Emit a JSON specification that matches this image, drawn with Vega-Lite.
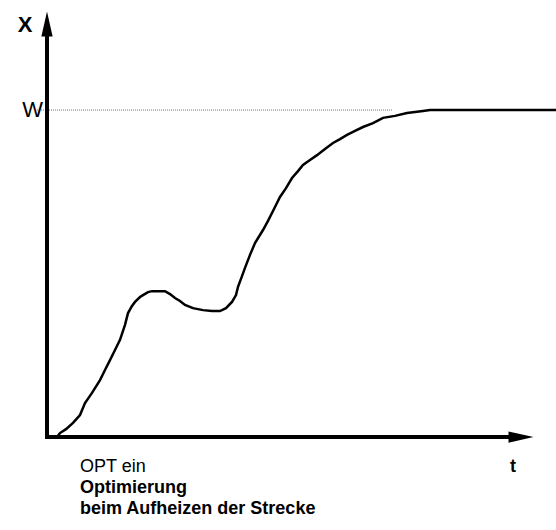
{
  "$schema": "https://vega.github.io/schema/vega-lite/v6.json",
  "width": 556,
  "height": 530,
  "autosize": "none",
  "padding": 0,
  "background": "white",
  "config": {"view": {"stroke": null}},
  "datasets": {
    "curve": [
      {"t": 2, "X": 0}, {"t": 2.6, "X": 1.2}, {"t": 3.8, "X": 2.4}, {"t": 5.2, "X": 4.3},
      {"t": 6.6, "X": 6.7}, {"t": 7.6, "X": 10.4}, {"t": 9, "X": 13.5}, {"t": 10.6, "X": 17.4},
      {"t": 11.6, "X": 20.5}, {"t": 12.6, "X": 23.5}, {"t": 13.6, "X": 26.6}, {"t": 14.6, "X": 29.7},
      {"t": 15.6, "X": 34.3}, {"t": 16.2, "X": 37.9}, {"t": 17, "X": 40.1}, {"t": 17.6, "X": 41.3},
      {"t": 18.6, "X": 42.8}, {"t": 19.2, "X": 43.4}, {"t": 20.2, "X": 44.3}, {"t": 21, "X": 44.6},
      {"t": 22.2, "X": 44.6}, {"t": 23.6, "X": 44.6}, {"t": 24.6, "X": 43.7}, {"t": 25.6, "X": 42.5},
      {"t": 26.6, "X": 41.6}, {"t": 27.6, "X": 40.4}, {"t": 29.2, "X": 39.4}, {"t": 31.2, "X": 38.8},
      {"t": 33, "X": 38.5}, {"t": 34.6, "X": 38.5}, {"t": 35.8, "X": 39.4}, {"t": 37, "X": 41.3},
      {"t": 37.8, "X": 43.4}, {"t": 38.2, "X": 45.9}, {"t": 39, "X": 49.2}, {"t": 39.6, "X": 51.7},
      {"t": 40.6, "X": 55.7}, {"t": 41.6, "X": 59.3}, {"t": 43.2, "X": 63.3}, {"t": 44.2, "X": 66.1},
      {"t": 45, "X": 68.5}, {"t": 46.6, "X": 73.4}, {"t": 47.8, "X": 76.1}, {"t": 49, "X": 79.2},
      {"t": 50.2, "X": 81.3}, {"t": 51.2, "X": 83.2}, {"t": 52.6, "X": 84.7}, {"t": 54, "X": 86.2},
      {"t": 55.6, "X": 88.1}, {"t": 57.2, "X": 89.9}, {"t": 58.6, "X": 91.1}, {"t": 60, "X": 92.4},
      {"t": 61.6, "X": 93.6}, {"t": 63.2, "X": 94.8}, {"t": 65.2, "X": 96.0}, {"t": 67.2, "X": 97.6},
      {"t": 69.6, "X": 98.2}, {"t": 72, "X": 99.1}, {"t": 73.6, "X": 99.4}, {"t": 75.2, "X": 99.7},
      {"t": 76.6, "X": 100}, {"t": 101.8, "X": 100}
    ],
    "axes": [
      {"t": 0, "X": -0.6, "t2": 0, "X2": 123},
      {"t": -0.4, "X": 0, "t2": 92.6, "X2": 0}
    ],
    "wline": [{"t": -2, "X": 100, "t2": 69.2, "X2": 100}],
    "arrowUp": [{"t": 0, "X": 126.3}],
    "arrowRight": [{"t": 94.8, "X": 0}],
    "labelX": [{"t": -4.4, "X": 126, "label": "X"}],
    "labelW": [{"t": -2.9, "X": 100, "label": "W"}],
    "labelOpt": [{"t": 6.6, "X": -9.2, "label": "OPT ein"}],
    "labelBold": [
      {"t": 6.6, "X": -15.6, "label": "Optimierung"},
      {"t": 6.6, "X": -22.0, "label": "beim Aufheizen der Strecke"}
    ],
    "labelT": [{"t": 93.2, "X": -9.2, "label": "t"}]
  },
  "encoding": {
    "x": {"field": "t", "type": "quantitative", "scale": {"domain": [-9.4, 101.8], "nice": false, "zero": false}, "axis": null},
    "y": {"field": "X", "type": "quantitative", "scale": {"domain": [-28.44, 133.64], "nice": false, "zero": false}, "axis": null}
  },
  "layer": [
    {
      "data": {"name": "wline"},
      "mark": {"type": "rule", "stroke": "#777777", "strokeWidth": 1, "strokeDash": [1, 1]},
      "encoding": {"x2": {"field": "t2"}, "y2": {"field": "X2"}}
    },
    {
      "data": {"name": "curve"},
      "mark": {"type": "line", "stroke": "black", "strokeWidth": 2.5, "interpolate": "linear"},
      "encoding": {"order": {"field": "t", "type": "quantitative"}}
    },
    {
      "data": {"name": "axes"},
      "mark": {"type": "rule", "stroke": "black", "strokeWidth": 4},
      "encoding": {"x2": {"field": "t2"}, "y2": {"field": "X2"}}
    },
    {
      "data": {"name": "arrowUp"},
      "mark": {"type": "point", "shape": "M0,-1L0.45,1L-0.45,1Z", "filled": true, "color": "black", "size": 625, "opacity": 1}
    },
    {
      "data": {"name": "arrowRight"},
      "mark": {"type": "point", "shape": "M1,0L-1,-0.45L-1,0.45Z", "filled": true, "color": "black", "size": 625, "opacity": 1}
    },
    {
      "data": {"name": "labelX"},
      "mark": {"type": "text", "font": "Liberation Sans", "fontSize": 22, "fontWeight": "bold", "baseline": "middle", "align": "center", "color": "black"},
      "encoding": {"text": {"field": "label"}}
    },
    {
      "data": {"name": "labelW"},
      "mark": {"type": "text", "font": "Liberation Sans", "fontSize": 22, "fontWeight": "normal", "baseline": "middle", "align": "center", "color": "black"},
      "encoding": {"text": {"field": "label"}}
    },
    {
      "data": {"name": "labelOpt"},
      "mark": {"type": "text", "font": "Liberation Sans", "fontSize": 18, "fontWeight": "normal", "baseline": "middle", "align": "left", "color": "black"},
      "encoding": {"text": {"field": "label"}}
    },
    {
      "data": {"name": "labelBold"},
      "mark": {"type": "text", "font": "Liberation Sans", "fontSize": 18, "fontWeight": "bold", "baseline": "middle", "align": "left", "color": "black"},
      "encoding": {"text": {"field": "label"}}
    },
    {
      "data": {"name": "labelT"},
      "mark": {"type": "text", "font": "Liberation Sans", "fontSize": 18, "fontWeight": "bold", "baseline": "middle", "align": "center", "color": "black"},
      "encoding": {"text": {"field": "label"}}
    }
  ]
}
